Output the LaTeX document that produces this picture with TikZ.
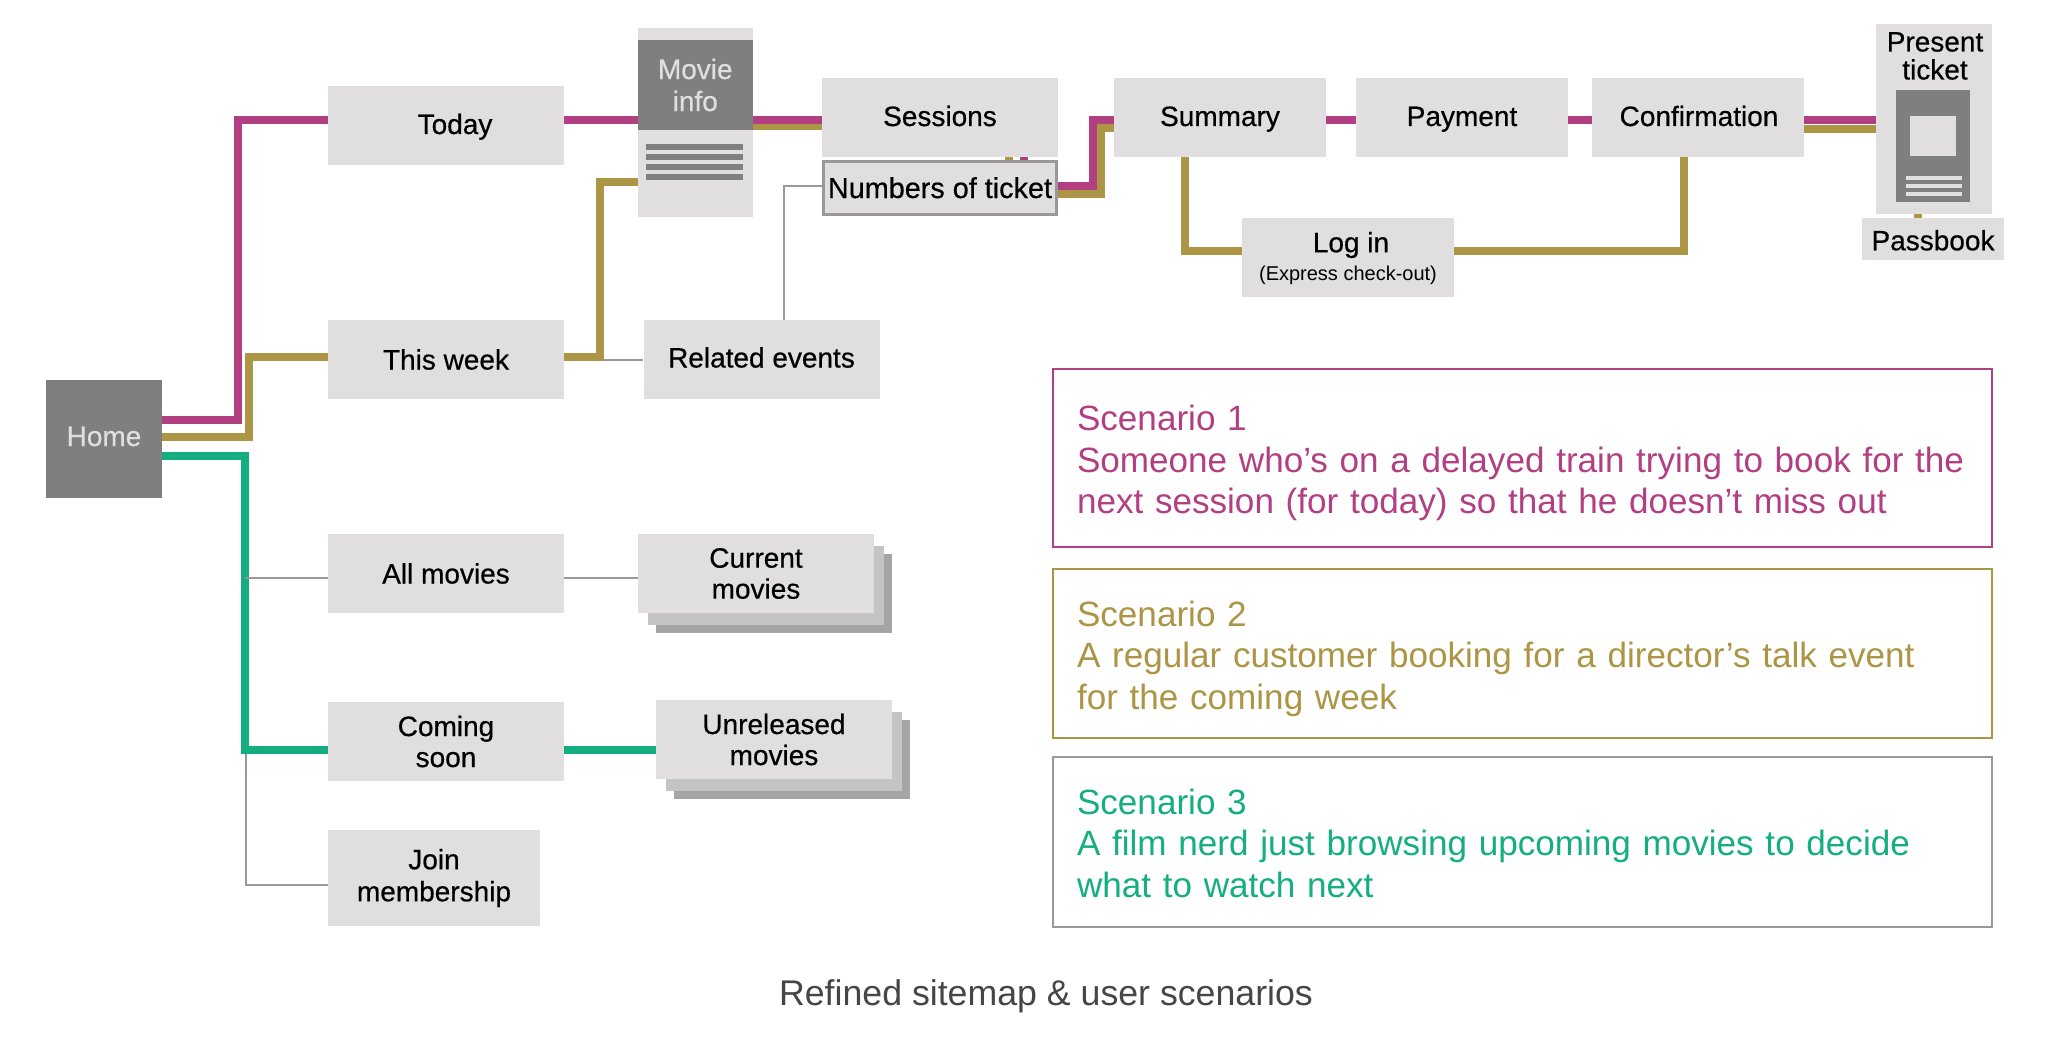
\documentclass[tikz,border=0pt]{standalone}
\usepackage{fontspec}
\setmainfont{Liberation Sans}
\newfontfamily\medfont[FakeBold=0.5]{Liberation Sans}
\usetikzlibrary{calc, positioning}

\definecolor{pinkline}{HTML}{B23F82}
\definecolor{goldline}{HTML}{AC9545}
\definecolor{greenline}{HTML}{14AE80}
\definecolor{boxgray}{HTML}{E0DEDF}
\definecolor{darkgray}{HTML}{7F7F7F}
\definecolor{thingray}{HTML}{999999}
\definecolor{midstack}{HTML}{C4C4C4}
\definecolor{backstack}{HTML}{A5A5A5}
\definecolor{captiongray}{HTML}{464646}

\newcommand{\labelfont}{\medfont\fontsize{28}{31}\selectfont}
\newcommand{\bigtext}{\fontsize{35.1}{41.5}\selectfont}

\begin{document}
\begin{tikzpicture}[x=1pt, y=-1pt,
		box/.style={fill=boxgray, inner sep=0pt, align=center, font=\labelfont, text=black},
		wide/.style={box, minimum width=236pt, minimum height=79pt},
		short/.style={box, minimum width=212pt, minimum height=79pt},
		dark/.style={fill=darkgray, inner sep=0pt, align=center, font=\labelfont, text=boxgray},
		infobar/.style={fill=darkgray, inner sep=0pt, minimum width=97pt, minimum height=6pt},
		ticketbar/.style={fill=boxgray, inner sep=0pt, minimum width=56pt, minimum height=4pt},
		stack/.style={inner sep=0pt, minimum width=236pt, minimum height=79pt},
		pink/.style={draw=pinkline, line width=8pt},
		gold/.style={draw=goldline, line width=8pt},
		green/.style={draw=greenline, line width=8pt},
		thin_l/.style={draw=thingray, line width=2pt},
		scenario/.style={inner sep=0pt, line width=2pt, minimum width=939pt},
		scenariotext/.style={inner sep=0pt, align=left, text width=891pt, font=\bigtext}]
	\useasboundingbox (0,0) rectangle (2048,1046);

	% left column
	\node[dark, minimum width=116pt, minimum height=118pt, text height=20pt, text depth=6pt] (home) at (104,439) {Home};
	\node[wide, text height=20pt, text depth=3pt] (today) at (446,125.5) {\hspace*{18pt}Today};
	\node[wide, text height=20pt, text depth=0pt] (thisweek) at (446,359.5) {This week};
	\node[wide, text height=20pt, text depth=0pt] (allmovies) at (446,573.5) {All movies};
	\node[wide] (comingsoon) at (446,741.5) {Coming\\soon};
	\node[box, minimum width=212pt, minimum height=95.5pt] (join) at (434,878) {Join\\[1pt]membership};

	% movie info page
	\node[box, minimum width=114.5pt, minimum height=189pt] (movieinfo) at (695.25,122.5) {};
	\node[dark, minimum width=114.5pt, minimum height=90pt] (moviehead) at (695.25,85) {Movie\\[1pt]info};
	\foreach \y [count=\p] in {147,157,167,177} {
		\node[infobar] (bar\p) at (694.5,\y) {};
	};

	\node[wide, text height=20pt, text depth=3pt] (sessions) at (940,117.5) {Sessions};
	\node[box, draw=thingray, line width=3pt, minimum width=233pt, minimum height=53pt, font=\medfont\fontsize{28.8}{31}\selectfont, text height=20pt, text depth=0pt] (numbers) at (940,188) {Numbers of ticket};
	\node[wide, text height=20pt, text depth=4pt] (related) at (761.5,359.5) {Related events};

	% stacked pages
	\node[stack, fill=backstack] (currentback) at (774,593.5) {};
	\node[stack, fill=midstack] (currentmid) at (766,585.5) {};
	\node[wide] (current) at (756,573.5) {Current\\movies};
	\node[stack, fill=backstack] (unreleasedback) at (792,759.5) {};
	\node[stack, fill=midstack] (unreleasedmid) at (784,751.5) {};
	\node[wide] (unreleased) at (774,739.5) {Unreleased\\movies};

	% checkout row
	\node[short, text height=20pt, text depth=3pt] (summary) at (1220,117.5) {Summary};
	\node[short, text height=20pt, text depth=3pt] (payment) at (1462,117.5) {Payment};
	\node[short, text height=20pt, text depth=3pt] (confirmation) at (1698,117.5) {\hspace*{2pt}Confirmation};
	\node[short] (login) at (1348,257.5) {};
	\node[font=\labelfont, inner sep=0pt] (logintext) at (1351,245) {Log in};
	\node[font=\fontsize{20}{24}\selectfont, inner sep=0pt] (loginsub) at (1348,275.5) {(Express check-out)};

	% ticket page
	\node[box, minimum width=116pt, minimum height=190pt] (present) at (1934,119) {};
	\node[font=\labelfont, align=center, inner sep=0pt, text=black] (presenttext) at (1935,56) {Present\\[-3pt]ticket};
	\node[dark, minimum width=74pt, minimum height=112pt] (ticket) at (1933,146) {};
	\node[box, fill=boxgray, minimum width=46pt, minimum height=40pt] (ticketimage) at (1933,136) {};
	\foreach \y [count=\p] in {178,186,194} {
		\node[ticketbar] (tbar\p) at (1934,\y) {};
	};
	\node[box, minimum width=142pt, minimum height=42pt, text height=22.6pt, text depth=0pt] (passbook) at (1933,239) {Passbook};

	% scenario 1
	\draw[pink] (home.east |- 0,420) -| (238,120) -- (today.west |- 0,120);
	\draw[pink] (today.east |- 0,120) -- (movieinfo.west |- 0,120);
	\draw[pink] (movieinfo.east |- 0,120) -- (sessions.west |- 0,120);
	\draw[pink] (numbers.east |- 0,186) -| (1093,120) -- (summary.west |- 0,120);
	\draw[pink] (summary.east |- 0,120) -- (payment.west |- 0,120);
	\draw[pink] (payment.east |- 0,120) -- (confirmation.west |- 0,120);
	\draw[pink] (confirmation.east |- 0,120) -- (present.west |- 0,120);
	\draw[pink] (1024,0 |- sessions.south) -- (1024,0 |- numbers.north);

	% scenario 2
	\draw[gold] (home.east |- 0,437) -| (248.5,357) -- (thisweek.west |- 0,357);
	\draw[gold] (thisweek.east |- 0,357) -| (599.5,182) -- (movieinfo.west |- 0,182);
	\draw[gold, line width=6pt] (movieinfo.east |- 0,127) -- (sessions.west |- 0,127);
	\draw[gold] (numbers.east |- 0,194) -| (1101,128) -- (summary.west |- 0,128);
	\draw[gold] (1185,0 |- summary.south) |- (login.west |- 0,251);
	\draw[gold] (login.east |- 0,251) -| (1684,0 |- confirmation.south);
	\draw[gold] (confirmation.east |- 0,129) -- (present.west |- 0,129);
	\draw[gold] (1918,0 |- present.south) -- (1918,0 |- passbook.north);
	\draw[gold] (1009,0 |- sessions.south) -- (1009,0 |- numbers.north);

	% scenario 3
	\draw[green] (home.east |- 0,456) -| (245,750) -- (comingsoon.west |- 0,750);
	\draw[green] (comingsoon.east |- 0,750) -- (unreleased.west |- 0,750);

	% plain links
	\draw[thin_l] (245,578) -- (allmovies.west |- 0,578);
	\draw[thin_l] (allmovies.east |- 0,578) -- (current.west |- 0,578);
	\draw[thin_l] (245.5,754) |- (join.west |- 0,885);
	\draw[thin_l] (603,360) -- (related.west |- 0,360);
	\draw[thin_l] (784,0 |- related.north) |- (numbers.west |- 0,186);

	% scenario boxes
	\node[scenario, draw=pinkline, minimum height=178pt] (scenarioa) at (1522.5,458) {};
	\node[scenariotext, text=pinkline] (scenarioatext) at (1522.5,463) {Scenario 1\\Someone who’s on a delayed train trying to book for the\\next session (for today) so that he doesn’t miss out};
	\node[scenario, draw=goldline, minimum height=169pt] (scenariob) at (1522.5,653.5) {};
	\node[scenariotext, text=goldline] (scenariobtext) at (1522.5,658.5) {Scenario 2\\A regular customer booking for a director’s talk event\\for the coming week};
	\node[scenario, draw=thingray, minimum height=170pt] (scenarioc) at (1522.5,842) {};
	\node[scenariotext, text=greenline] (scenarioctext) at (1522.5,843) {Scenario 3\\A film nerd just browsing upcoming movies to decide\\what to watch next};

	\node[font=\fontsize{35.7}{41.5}\selectfont, text=captiongray, inner sep=0pt] (caption) at (1046,996.5) {Refined sitemap \& user scenarios};
\end{tikzpicture}
\end{document}
